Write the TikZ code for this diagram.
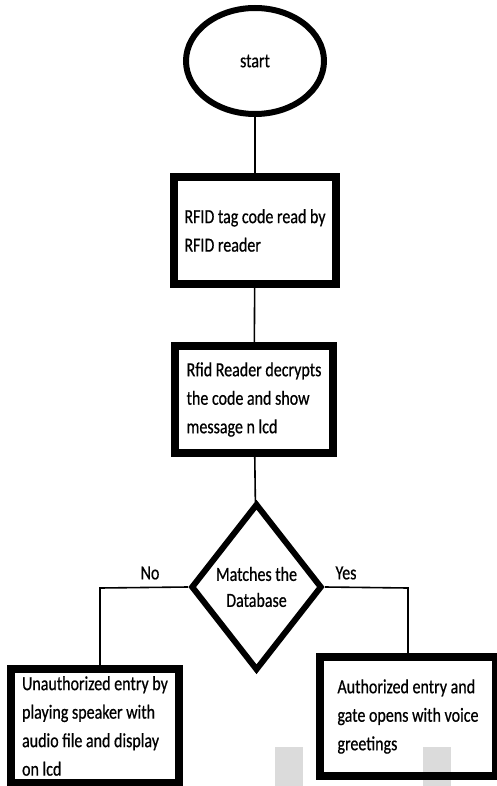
\documentclass[tikz,border=0pt]{standalone}
\usepackage{fontspec}
\setmainfont{Carlito}[FakeStretch=0.8,FakeBold=0.6]
\usepackage{tikz}
\usetikzlibrary{positioning,calc,shapes.geometric}

\begin{document}
\begin{tikzpicture}[x=1pt,y=-1pt]
	\tikzset{
		term/.style={
			ellipse, draw, line width=6pt,
			minimum width=138pt, minimum height=106pt, inner sep=0pt,
			font=\fontsize{20}{28.5}\selectfont
		},
		proc/.style={
			rectangle, draw, line width=8pt, align=left, inner sep=0pt,
			font=\fontsize{20}{28.5}\selectfont
		},
		decide/.style={
			diamond, draw, line width=6pt, align=center, inner sep=0pt,
			minimum width=131pt, minimum height=167pt,
			font=\fontsize{20}{26}\selectfont
		},
		flow/.style={draw, line width=1.6pt},
		lbl/.style={font=\fontsize{20}{24}\selectfont},
		blank/.style={fill=gray!28, draw=none}
	}
	\useasboundingbox (0,0) rectangle (496,786);

	% ======= grey patches at the bottom =======
	\fill[blank] (275,747) rectangle (303,786);
	\fill[blank] (423,747) rectangle (451,786);

	% ======= main column =======
	\node[term] (start) at (255,61) {start};

	\node[proc, minimum width=162pt, minimum height=107pt] (read) at (255,230.5)
		{RFID tag code read by\\RFID reader};

	\node[proc, minimum width=158pt, minimum height=107pt] (decrypt) at (254,399.5)
		{Rfid Reader decrypts\\the code and show\\message n lcd};

	\node[decide] (match) at (256.5,587) {Matches the\\Database};

	\draw[flow] (start) -- (read);
	\draw[flow] (read) -- (decrypt);
	\draw[flow] (decrypt) -- (match);

	% ======= the two outcomes =======
	\node[proc, minimum width=168pt, minimum height=114pt] (deny) at (95,726)
		{Unauthorized entry by\\playing speaker with\\audio file and display\\on lcd};

	\node[proc, minimum width=176pt, minimum height=119pt] (grant) at (408,716.5)
		{Authorized entry and\\gate opens with voice\\greetings};

	\coordinate (nobend) at (100,588);
	\coordinate (yesbend) at (408,588);

	\draw[flow] (match.west) -- (nobend) -- (nobend |- deny.north);
	\draw[flow] (match.east) -- (yesbend) -- (yesbend |- grant.north);

	\node[lbl] (no) at (150,573) {No};
	\node[lbl] (yes) at (346,573) {Yes};

\end{tikzpicture}
\end{document}
